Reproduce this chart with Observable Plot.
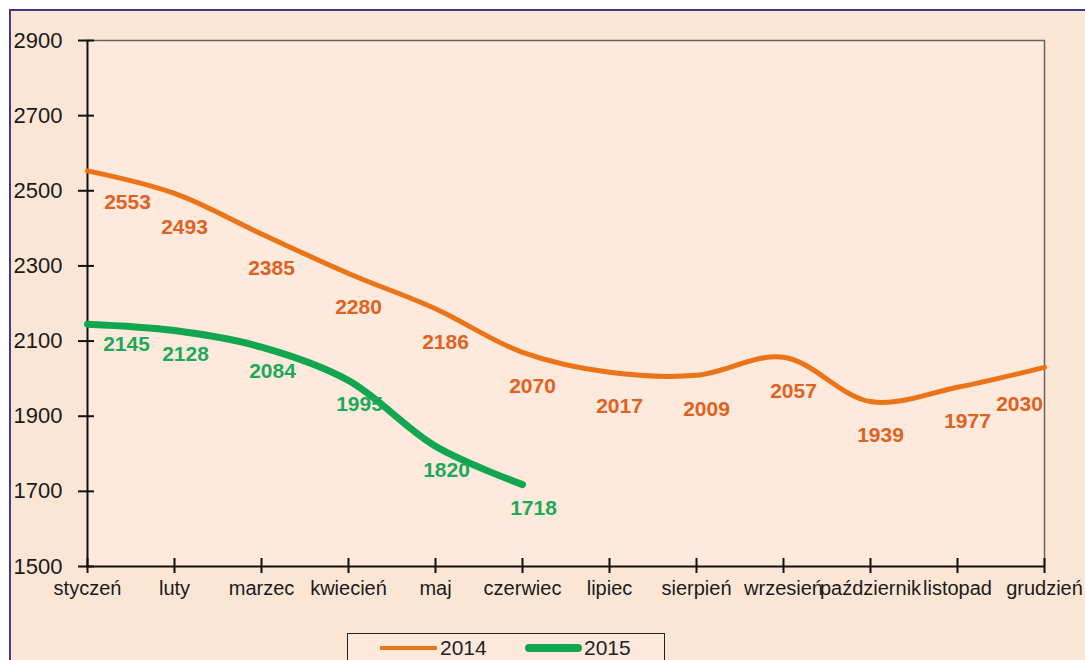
<!DOCTYPE html>
<html>
<head>
<meta charset="utf-8">
<script src="https://cdn.jsdelivr.net/npm/d3@7"></script>
<script src="https://cdn.jsdelivr.net/npm/@observablehq/plot@0.6"></script>
<style>
  html, body { margin: 0; padding: 0; background: #ffffff; }
  body { width: 1085px; height: 660px; overflow: hidden; position: relative; font-family: "Liberation Sans", Arial, sans-serif; }
  #wrap {
    position: absolute; left: 9px; top: 9px; width: 1076px; height: 651px;
    border-left: 2px solid #3e3b8c; border-top: 2px solid #3e3b8c;
    background: #fbe6d6; overflow: hidden;
  }
  #chart { position: absolute; left: 0; top: 0; }
  #legend {
    position: absolute; left: 336px; top: 622px; width: 318px; height: 40px;
    border: 1.5px solid #222; background: #fde9dc; box-sizing: border-box;
  }
  .item { position: absolute; top: 3px; font-size: 21px; color: #222; line-height: 22px; }
  .sw { position: absolute; }
</style>
</head>
<body>
<div id="wrap">
  <div id="chart"></div>
  <div id="legend"></div>
</div>
<script>
const months = ["styczeń","luty","marzec","kwiecień","maj","czerwiec","lipiec","sierpień","wrzesień","październik","listopad","grudzień"];
const values2014 = [2553, 2493, 2385, 2280, 2186, 2070, 2017, 2009, 2057, 1939, 1977, 2030];
const values2015 = [2145, 2128, 2084, 1995, 1820, 1718];
const yTicks = [1500, 1700, 1900, 2100, 2300, 2500, 2700, 2900];
const seriesNames = ["2014", "2015"];
const seriesColors = ["#ec7418", "#13a650"];
const labelColors = ["#e0621e", "#1ea85a"];

const d2014 = values2014.map((v, i) => ({month: months[i], value: v, i}));
const d2015 = values2015.map((v, i) => ({month: months[i], value: v, i}));

const font = "'Liberation Sans', Arial, sans-serif";

const chart = Plot.plot({
  width: 1074,
  height: 612,
  marginLeft: 75,
  marginRight: 40,
  marginTop: 29,
  marginBottom: 57,
  style: {background: "transparent", fontFamily: font, fontSize: "20px", color: "#222"},
  x: {type: "point", domain: months, padding: 0, label: null},
  y: {domain: [1500, 2900], ticks: yTicks, label: null},
  marks: [
    Plot.rect([0], {x1: () => months[0], x2: () => months[11], y1: 1500, y2: 2900, fill: "#fdeadd"}),
    Plot.ruleY([2900], {stroke: "#6b6358", strokeWidth: 1.5}),
    Plot.ruleX([months[11]], {stroke: "#6b6358", strokeWidth: 1.5}),
    Plot.axisY({ticks: yTicks, tickSize: 0, tickPadding: 24, tickFormat: d => String(d), fontSize: 22, fill: "#1a1a1a", label: null}),
    Plot.axisY({ticks: yTicks, tickSize: 16, dx: 8, text: null, stroke: "#111", strokeWidth: 2, label: null}),
    Plot.axisX({tickSize: 0, tickPadding: 14, fontSize: 20, fill: "#1a1a1a", label: null}),
    Plot.axisX({tickSize: 15, dy: -8, text: null, stroke: "#111", strokeWidth: 2, label: null}),
    Plot.ruleX([months[0]], {stroke: "#111", strokeWidth: 2}),
    Plot.ruleY([1500], {stroke: "#111", strokeWidth: 2}),
    Plot.line(d2014, {x: "month", y: "value", stroke: seriesColors[0], strokeWidth: 5, curve: "catmull-rom"}),
    Plot.line(d2015, {x: "month", y: "value", stroke: seriesColors[1], strokeWidth: 7, curve: "catmull-rom"}),
    Plot.text(d2014.filter(d => d.i > 0 && d.i < 11), {x: "month", y: "value", text: d => String(d.value), dx: 10, dy: 34, fill: labelColors[0], fontWeight: "bold", fontSize: 21}),
    Plot.text(d2014.filter(d => d.i === 0), {x: "month", y: "value", text: d => String(d.value), dx: 40, dy: 31, fill: labelColors[0], fontWeight: "bold", fontSize: 21}),
    Plot.text(d2014.filter(d => d.i === 11), {x: "month", y: "value", text: d => String(d.value), dx: -25, dy: 37, fill: labelColors[0], fontWeight: "bold", fontSize: 21}),
    Plot.text(d2015.filter(d => d.i > 0), {x: "month", y: "value", text: d => String(d.value), dx: 11, dy: 24, fill: labelColors[1], fontWeight: "bold", fontSize: 21}),
    Plot.text(d2015.filter(d => d.i === 0), {x: "month", y: "value", text: d => String(d.value), dx: 39, dy: 20, fill: labelColors[1], fontWeight: "bold", fontSize: 21})
  ]
});
document.getElementById("chart").appendChild(chart);

const legend = document.getElementById("legend");
const swX = [32, 177];
const txtX = [92, 236];
const swH = [4, 8];
seriesNames.forEach((name, k) => {
  const sw = document.createElement("div");
  sw.className = "sw";
  sw.style.left = swX[k] + "px";
  sw.style.top = (14 - swH[k] / 2) + "px";
  sw.style.width = "57px";
  sw.style.height = swH[k] + "px";
  sw.style.background = seriesColors[k];
  sw.style.borderRadius = k === 1 ? "4px" : "0";
  legend.appendChild(sw);
  const t = document.createElement("div");
  t.className = "item";
  t.style.left = txtX[k] + "px";
  t.textContent = name;
  legend.appendChild(t);
});
</script>
</body>
</html>
